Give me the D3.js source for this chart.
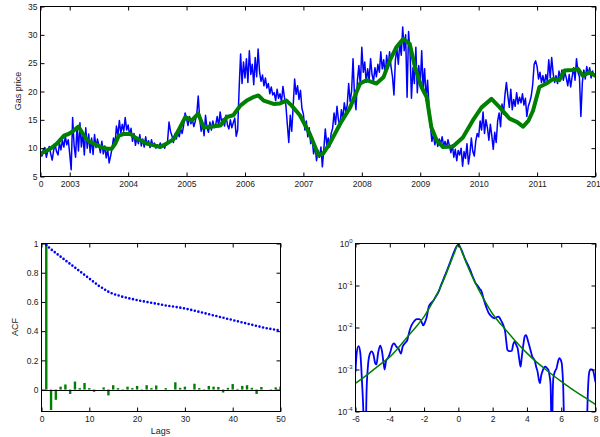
<!DOCTYPE html>
<html>
<head>
<meta charset="utf-8">
<script src="https://cdn.jsdelivr.net/npm/d3@7"></script>
<style>
  body { margin: 0; background: #fff; }
  svg { display: block; font-family: "Liberation Sans", Arial, sans-serif; }
  .tick text { font-size: 8.5px; fill: #222; }
  .tick line { stroke: #000; }
  .label { font-size: 9px; fill: #222; }
</style>
</head>
<body>
<div id="chart"></div>
<script>
// ---- top panel: gas price, sampled 40 times a year from mid 2002 ----
const sampleStart = 2002.5;
const samplesPerYear = 40;
const gasPrice = [
  // 2002 H2
  9.2, 8.6, 9.8, 10.1, 8.4, 9.5, 10.3, 9.0, 7.9, 9.6, 10.6, 9.4, 8.8, 10.9, 9.7, 11.4, 10.2, 12.1, 10.6, 11.5,
  // 2003
  9.0, 6.2, 15.4, 10.5, 8.4, 13.8, 9.5, 14.5, 10.2, 12.8, 8.8, 13.6, 10.0, 12.5, 9.2, 11.8, 8.9, 12.4, 10.1, 11.6,
  10.5, 9.2, 11.2, 9.0, 10.4, 8.3, 9.8, 7.4, 8.6, 10.0, 11.8, 10.6, 13.9, 12.2, 14.9, 12.6, 14.2, 13.0, 15.4, 13.2,
  // 2004
  14.1, 12.3, 13.5, 11.2, 12.6, 10.5, 11.9, 10.8, 12.4, 10.4, 11.6, 10.2, 12.0, 10.6, 11.3, 10.1, 11.5, 10.4, 10.9, 10.0,
  10.6, 10.2, 10.9, 10.3, 10.7, 10.0, 10.8, 11.2, 14.6, 13.0, 12.2, 11.0, 12.5, 11.6, 12.8, 12.0, 13.4, 12.6, 14.0, 16.2,
  // 2005
  15.2, 14.0, 15.6, 14.3, 15.0, 13.8, 14.8, 16.0, 19.2, 15.2, 13.0, 14.4, 12.2, 15.8, 13.5, 12.8, 14.6, 13.2, 14.8, 13.6,
  14.2, 15.6, 13.8, 16.4, 14.6, 15.2, 13.9, 15.8, 14.1, 13.4, 15.0, 13.6, 14.5, 15.3, 12.1, 13.2, 20.5, 26.6, 21.4, 25.2,
  // 2006
  22.4, 25.8, 21.6, 27.2, 23.0, 24.8, 21.2, 26.0, 22.6, 27.5, 23.4, 21.8, 22.9, 21.0, 22.4, 20.6, 21.4, 19.6, 20.8, 19.4,
  19.8, 18.4, 20.4, 18.8, 19.6, 18.2, 20.9, 19.0, 17.6, 14.2, 11.0, 15.8, 13.0, 17.4, 22.2, 19.5, 21.0, 18.6, 20.2, 17.0,
  // 2007
  16.0, 13.2, 14.8, 12.0, 13.6, 10.8, 11.6, 9.0, 10.4, 7.8, 9.6, 8.4, 10.2, 6.7, 9.8, 13.4, 10.6, 11.8, 10.2, 12.6,
  13.5, 16.2, 14.2, 17.4, 15.0, 13.8, 16.8, 15.2, 18.0, 16.4, 17.6, 21.4, 18.2, 20.0, 25.8, 19.0, 16.8, 22.0, 24.6, 21.0,
  // 2008
  27.8, 23.4, 25.2, 21.6, 24.0, 22.0, 25.8, 23.0, 21.8, 24.2, 22.6, 24.8, 23.4, 27.0, 24.0, 25.6, 22.8, 26.4, 24.2, 27.0,
  24.4, 22.6, 19.4, 25.6, 27.6, 24.8, 28.6, 26.4, 31.4, 27.2, 30.0, 19.0, 30.6, 27.0, 18.8, 24.2, 21.4, 27.8, 19.8, 24.6,
  // 2009
  21.0, 27.2, 20.6, 24.0, 18.4, 22.0, 17.6, 13.8, 11.2, 12.4, 10.6, 11.8, 10.3, 11.6, 10.8, 12.0, 10.4, 11.2, 10.1, 11.5,
  10.4, 9.2, 10.6, 8.4, 9.8, 7.8, 9.6, 8.8, 10.0, 6.8, 9.4, 8.2, 10.8, 7.2, 9.0, 11.8, 9.4, 8.6, 11.2, 12.6,
  // 2010
  12.0, 14.8, 13.2, 16.4, 12.6, 15.0, 13.6, 11.4, 14.2, 12.2, 9.8, 12.8, 11.0, 14.8, 16.2, 13.8, 17.8, 16.0, 19.4, 21.6,
  19.2, 17.2, 20.4, 16.8, 18.6, 17.4, 19.8, 17.8, 19.0, 18.0, 19.6, 17.6, 18.8, 15.6, 17.4, 18.2, 19.2, 21.2, 24.8, 25.4,
  // 2011
  24.4, 22.2, 23.4, 21.6, 22.8, 21.2, 23.0, 21.8, 25.6, 22.4, 26.0, 23.2, 21.6, 22.8, 21.4, 23.6, 22.2, 23.8, 22.0, 23.4,
  22.4, 21.0, 23.0, 20.8, 22.6, 24.2, 22.0, 25.8, 23.4, 22.6, 15.6, 21.6, 23.8, 22.2, 24.4, 23.0, 24.2, 22.4, 23.6, 22.8
];
// smoothed price (green)
const smoothYears = [2002.50, 2002.67, 2002.78, 2002.90, 2002.98, 2003.07, 2003.15, 2003.21, 2003.30, 2003.41,
  2003.53, 2003.64, 2003.72, 2003.78, 2003.84, 2003.92, 2004.04, 2004.12, 2004.21, 2004.32,
  2004.44, 2004.55, 2004.66, 2004.78, 2004.89, 2004.98, 2005.09, 2005.20, 2005.29, 2005.40,
  2005.58, 2005.69, 2005.80, 2005.92, 2006.03, 2006.14, 2006.23, 2006.32, 2006.49, 2006.60,
  2006.71, 2006.80, 2006.94, 2007.11, 2007.26, 2007.34, 2007.45, 2007.63, 2007.80, 2007.97,
  2008.08, 2008.25, 2008.37, 2008.48, 2008.59, 2008.71, 2008.82, 2008.91, 2009.02, 2009.11,
  2009.19, 2009.28, 2009.39, 2009.56, 2009.73, 2009.90, 2010.05, 2010.22, 2010.36, 2010.53,
  2010.66, 2010.76, 2010.85, 2010.93, 2011.04, 2011.16, 2011.27, 2011.38, 2011.47, 2011.61,
  2011.70, 2011.78, 2011.90, 2011.99];
const smoothPrice = [9.0, 9.9, 10.8, 12.2, 12.5, 13.1, 13.8, 12.8, 11.4, 10.8,
  10.2, 9.9, 9.9, 10.8, 12.2, 12.5, 12.5, 11.9, 11.4, 10.8,
  10.5, 10.2, 10.8, 11.6, 13.7, 15.5, 14.9, 16.1, 13.7, 13.8,
  14.0, 15.5, 15.8, 17.5, 18.4, 19.0, 19.3, 18.4, 17.8, 17.9,
  18.4, 17.5, 15.8, 12.5, 8.7, 9.1, 10.8, 14.3, 17.2, 21.4,
  22.0, 21.4, 22.5, 25.5, 27.8, 29.3, 28.4, 24.3, 20.8, 19.0,
  13.7, 11.4, 10.2, 10.3, 11.9, 14.9, 17.2, 18.7, 17.2, 15.2,
  14.6, 13.8, 14.8, 16.6, 20.8, 21.4, 22.2, 22.0, 23.7, 23.8,
  24.0, 22.8, 23.4, 22.8];
const yearTicks = [2002.5, 2003, 2004, 2005, 2006, 2007, 2008, 2009, 2010, 2011, 2012];
const yearLabels = ['0', '2003', '2004', '2005', '2006', '2007', '2008', '2009', '2010', '2011', '2012'];
const priceTicks = [5, 10, 15, 20, 25, 30, 35];

// ---- bottom left: autocorrelation, lags 1..50 ----
const lags = d3.range(1, 51);
const acfReturns = [1.0, -0.14, -0.07, 0.02, 0.035, -0.03, 0.055, 0.01, 0.045, 0.01,
  -0.015, 0.0, 0.015, -0.04, 0.03, 0.01, -0.01, 0.02, 0.01, 0.025,
  -0.01, 0.03, 0.01, 0.028, 0.0, 0.01, 0.0, 0.05, 0.012, 0.02,
  0.0, 0.04, 0.01, -0.005, 0.025, 0.02, 0.018, -0.02, 0.012, 0.038,
  0.005, 0.025, 0.03, 0.012, -0.03, 0.018, 0.0, -0.005, 0.015, 0.02];
const acfAbsolute = [0.99, 0.96, 0.935, 0.91, 0.885, 0.86, 0.835, 0.81, 0.785, 0.76,
  0.735, 0.71, 0.69, 0.67, 0.655, 0.645, 0.635, 0.627, 0.62, 0.613,
  0.606, 0.6, 0.594, 0.588, 0.582, 0.576, 0.571, 0.566, 0.561, 0.555,
  0.548, 0.54, 0.532, 0.524, 0.516, 0.508, 0.5, 0.492, 0.484, 0.476,
  0.468, 0.46, 0.452, 0.444, 0.436, 0.428, 0.421, 0.415, 0.41, 0.405];
const lagTicks = [0, 10, 20, 30, 40, 50];
const acfTicks = [0, 0.2, 0.4, 0.6, 0.8, 1];

// ---- bottom right: density of returns (log scale) ----
const empX = [-6.0, -5.93, -5.82, -5.72, -5.62, -5.55, -5.48, -5.42, -5.36, -5.28,
  -5.18, -5.06, -4.95, -4.85, -4.78, -4.68, -4.56, -4.46, -4.36, -4.3,
  -4.22, -4.1, -3.98, -3.85, -3.75, -3.62, -3.5, -3.35, -3.25, -3.12,
  -2.98, -2.85, -2.72, -2.58, -2.43, -2.28, -2.15, -2.05, -1.95, -1.85,
  -1.72, -1.6, -1.45, -1.3, -1.15, -1.0, -0.85, -0.7, -0.55, -0.4,
  -0.25, -0.12, 0.0, 0.1, 0.25, 0.4, 0.55, 0.7, 0.85, 1.0,
  1.12, 1.25, 1.36, 1.45, 1.55, 1.65, 1.75, 1.85, 2.0, 2.14,
  2.25, 2.35, 2.45, 2.55, 2.65, 2.73, 2.8, 2.86, 2.95, 3.05,
  3.12, 3.2, 3.28, 3.38, 3.46, 3.55, 3.63, 3.7, 3.79, 3.88,
  3.95, 4.05, 4.18, 4.3, 4.47, 4.55, 4.62, 4.7, 4.76, 4.83,
  4.9, 5.0, 5.07, 5.15, 5.25, 5.32, 5.38, 5.42, 5.46, 5.5,
  5.54, 5.63, 5.73, 5.82, 5.89, 5.96, 6.03, 6.08, 6.12, 6.16,
  6.2, 6.6, 7.0, 7.45, 7.5, 7.55, 7.62, 7.7, 7.8, 7.88,
  7.95, 8.0];
const empDensity = [8.9e-4, 2.5e-3, 3.6e-3, 2.5e-3, 5.0e-4, 1.26e-4, 1e-5, 1e-5, 2.5e-4, 1.12e-3,
  2.24e-3, 2.7e-3, 2.24e-3, 1.41e-3, 1.32e-3, 2.5e-3, 3.7e-3, 2.8e-3, 1.41e-3, 1.0e-3,
  1.58e-3, 1.9e-3, 2.5e-3, 3.8e-3, 4.2e-3, 3.5e-3, 3.2e-3, 2.4e-3, 3.5e-3, 4.2e-3,
  5.0e-3, 8.3e-3, 1.15e-2, 1.41e-2, 1.58e-2, 1.58e-2, 1.38e-2, 1.12e-2, 1.32e-2, 1.74e-2,
  3.2e-2, 3.8e-2, 4.4e-2, 5.6e-2, 7.1e-2, 0.105, 0.148, 0.209, 0.302, 0.437,
  0.631, 0.832, 0.955, 0.832, 0.603, 0.417, 0.316, 0.229, 0.158, 0.115,
  0.1, 0.083, 0.071, 0.052, 0.038, 0.029, 0.023, 0.020, 0.0174, 0.0166,
  0.0178, 0.0182, 0.0158, 0.0132, 0.0105, 0.0079, 0.0045, 0.00295, 0.00275, 0.00275,
  0.0028, 0.004, 0.0046, 0.0038, 0.0032, 0.00178, 0.00117, 0.002, 0.0039, 0.0063,
  0.0066, 0.005, 0.0032, 0.0021, 0.00155, 0.00112, 0.00089, 0.00056, 0.00047, 0.00071,
  0.00089, 0.00112, 0.00117, 0.0011, 0.00098, 0.00071, 0.00043, 6.3e-5, 1e-5, 2e-4,
  0.00062, 0.00089, 0.00107, 0.00158, 0.00186, 0.00174, 0.00141, 0.00079, 0.00036, 6.3e-5,
  1e-5, 1e-6, 1e-6, 1e-5, 5e-5, 2.5e-4, 7.9e-4, 0.001, 0.001, 0.00089,
  0.00063, 0.0005];
const fitX = [-6, -5.5, -5, -4.5, -4, -3.5, -3, -2.5, -2, -1.5, -1, -0.5, -0.25, 0,
  0.25, 0.5, 1, 1.5, 2, 2.5, 3, 3.5, 4, 4.5, 5, 5.5, 6, 6.5, 7, 7.5, 8];
const fitDensity = [4.7e-4, 6.6e-4, 9.5e-4, 1.38e-3, 2.0e-3, 3.3e-3, 5.8e-3, 1.0e-2, 1.82e-2, 4.0e-2, 0.1, 0.316, 0.575, 0.93,
  0.575, 0.316, 0.112, 0.046, 0.021, 0.0117, 0.0068, 0.004, 0.00245, 0.00158, 0.00107, 0.00074, 0.00052, 0.00037, 0.00027, 0.0002, 0.000148];
const retTicks = [-6, -4, -2, 0, 2, 4, 6, 8];
const densTicks = [1e-4, 1e-3, 1e-2, 1e-1, 1];

const blue = '#0000ff', green = '#008000';

const svg = d3.select('#chart').append('svg')
  .attr('width', 600)
  .attr('height', 437);
svg.append('rect').attr('width', 600).attr('height', 437).attr('fill', '#fff');
const defs = svg.append('defs');

// axes box with inward ticks on all four sides (matlab look)
function frame(g, x, y, xTicks, xFmt, yTicks, yFmt) {
  const [x0, x1] = x.range(), [y0, y1] = y.range();
  const put = (axis, tx, ty, keepText) => {
    const a = g.append('g').attr('transform', `translate(${tx},${ty})`).call(axis);
    a.select('.domain').remove();
    if (!keepText) a.selectAll('text').remove();
    return a;
  };
  const bottom = put(d3.axisBottom(x).tickValues(xTicks).tickFormat(xFmt).tickSize(-4).tickPadding(4), 0, y0, true);
  put(d3.axisTop(x).tickValues(xTicks).tickSize(-4), 0, y1, false);
  const left = put(d3.axisLeft(y).tickValues(yTicks).tickFormat(yFmt).tickSize(-4).tickPadding(3), x0, 0, true);
  put(d3.axisRight(y).tickValues(yTicks).tickSize(-4), x1, 0, false);
  g.append('rect')
    .attr('x', x0).attr('y', y1)
    .attr('width', x1 - x0).attr('height', y0 - y1)
    .attr('fill', 'none').attr('stroke', '#000').attr('stroke-width', 1);
  return {bottom, left};
}

function clip(id, x, y) {
  const [x0, x1] = x.range(), [y0, y1] = y.range();
  defs.append('clipPath').attr('id', id).append('rect')
    .attr('x', x0).attr('y', y1).attr('width', x1 - x0).attr('height', y0 - y1);
  return `url(#${id})`;
}

// ---------- top: price series ----------
const xT = d3.scaleLinear().domain([2002.5, 2012]).range([40.5, 595.5]);
const yT = d3.scaleLinear().domain([5, 35]).range([176.5, 6.5]);
const gTop = svg.append('g');
const plotTop = gTop.append('g').attr('clip-path', clip('clipTop', xT, yT));

plotTop.append('path')
  .datum(gasPrice)
  .attr('fill', 'none')
  .attr('stroke', blue)
  .attr('stroke-width', 1.5)
  .attr('stroke-linejoin', 'round')
  .attr('d', d3.line()
    .x((d, i) => xT(sampleStart + i / samplesPerYear))
    .y(d => yT(d)));

plotTop.append('path')
  .datum(smoothYears.map((t, i) => [t, smoothPrice[i]]))
  .attr('fill', 'none')
  .attr('stroke', green)
  .attr('stroke-width', 4)
  .attr('stroke-linejoin', 'round')
  .attr('stroke-linecap', 'round')
  .attr('d', d3.line().x(d => xT(d[0])).y(d => yT(d[1])));

frame(gTop, xT, yT, yearTicks, (d, i) => yearLabels[i], priceTicks, d => d);

gTop.append('text').attr('class', 'label')
  .attr('transform', 'translate(21,91) rotate(-90)')
  .attr('text-anchor', 'middle')
  .text('Gas price');

// ---------- bottom left: ACF ----------
const xA = d3.scaleLinear().domain([0, 50]).range([41.5, 280.5]);
const yA = d3.scaleLinear().domain([-0.15, 1]).range([411.5, 243.5]);
const gAcf = svg.append('g');
const plotAcf = gAcf.append('g').attr('clip-path', clip('clipAcf', xA, yA));
const barW = 2.4;

plotAcf.selectAll('rect.bar')
  .data(acfReturns)
  .join('rect')
    .attr('class', 'bar')
    .attr('x', (d, i) => xA(lags[i]) - barW / 2)
    .attr('y', d => yA(Math.max(d, 0)))
    .attr('width', barW)
    .attr('height', d => Math.abs(yA(d) - yA(0)))
    .attr('fill', green);

plotAcf.append('line')
  .attr('x1', xA(0)).attr('x2', xA(50))
  .attr('y1', Math.round(yA(0)) + 0.5).attr('y2', Math.round(yA(0)) + 0.5)
  .attr('stroke', '#000').attr('stroke-width', 1);

plotAcf.append('path')
  .datum(acfAbsolute)
  .attr('fill', 'none')
  .attr('stroke', blue)
  .attr('stroke-width', 2.6)
  .attr('stroke-linecap', 'round')
  .attr('stroke-dasharray', '0,3.7')
  .attr('d', d3.line().x((d, i) => xA(lags[i])).y(d => yA(d)));

frame(gAcf, xA, yA, lagTicks, d => d, acfTicks, d => d);

gAcf.append('text').attr('class', 'label')
  .attr('transform', 'translate(18,327) rotate(-90)')
  .attr('text-anchor', 'middle')
  .text('ACF');
gAcf.append('text').attr('class', 'label')
  .attr('x', 160.5).attr('y', 434)
  .attr('text-anchor', 'middle')
  .text('Lags');

// ---------- bottom right: log density ----------
const xD = d3.scaleLinear().domain([-6, 8]).range([355.5, 595.5]);
const yD = d3.scaleLog().domain([1e-4, 1]).range([411.5, 243.5]);
const gDen = svg.append('g');
const plotDen = gDen.append('g').attr('clip-path', clip('clipDen', xD, yD));

plotDen.append('path')
  .datum(empX.map((v, i) => [v, empDensity[i]]))
  .attr('fill', 'none')
  .attr('stroke', blue)
  .attr('stroke-width', 1.8)
  .attr('stroke-linejoin', 'round')
  .attr('d', d3.line().curve(d3.curveMonotoneX).x(d => xD(d[0])).y(d => yD(d[1])));

plotDen.append('path')
  .datum(fitX.map((v, i) => [v, fitDensity[i]]))
  .attr('fill', 'none')
  .attr('stroke', green)
  .attr('stroke-width', 1.5)
  .attr('d', d3.line().curve(d3.curveMonotoneX).x(d => xD(d[0])).y(d => yD(d[1])));

const denAxes = frame(gDen, xD, yD, retTicks, d => String(d), densTicks, () => '');
denAxes.left.selectAll('.tick text').each(function(d) {
  const t = d3.select(this);
  t.text('10');
  t.append('tspan')
    .attr('dy', -4)
    .attr('font-size', '6px')
    .text(String(Math.round(Math.log10(d))));
});
</script>
</body>
</html>
